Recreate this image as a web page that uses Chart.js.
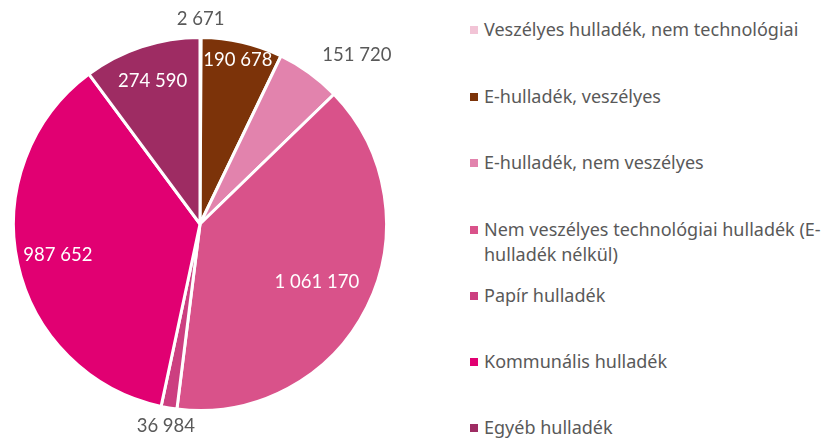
<!DOCTYPE html>
<html>
<head>
<meta charset="utf-8">
<script src="https://cdn.jsdelivr.net/npm/chart.js@4"></script>
<style>
  body { margin: 0; background: #fff; }
  #wrap { position: relative; width: 827px; height: 441px; }
  #pieBox { position: absolute; left: 0; top: 0; width: 400px; height: 441px; }
  #legend { position: absolute; left: 470px; top: 0; width: 357px; font-family: "Noto Sans", sans-serif; font-size: 18px; color: #595959; }
  .item { position: absolute; left: 0; display: flex; align-items: flex-start; line-height: 25px; }
  .box { width: 8px; height: 8px; margin: 9px 6px 0 0; flex: none; }
</style>
</head>
<body>
<div id="wrap">
  <div id="pieBox"><canvas id="pie"></canvas></div>
  <div id="legend"></div>
</div>
<script>
const categories = [
  "Veszélyes hulladék, nem technológiai",
  "E-hulladék, veszélyes",
  "E-hulladék, nem veszélyes",
  "Nem veszélyes technológiai hulladék (E-hulladék nélkül)",
  "Papír hulladék",
  "Kommunális hulladék",
  "Egyéb hulladék"
];
const values = [2671, 190678, 151720, 1061170, 36984, 987652, 274590];
const colors = ["#f2c4d6", "#7c3309", "#e283ad", "#d9528a", "#cc3f80", "#e10072", "#9e2c63"];

// label placement: radius factor and whether text sits inside (white) or outside (grey)
const labelRadius = [1.1, 0.9, 1.12, 0.7, 1.1, 0.78, 0.81];
const labelInside = [false, true, false, true, false, true, true];

function fmt(v) {
  return String(v).replace(/\B(?=(\d{3})+(?!\d))/g, " ");
}

const sliceLabels = {
  id: "sliceLabels",
  afterDatasetsDraw(chart) {
    const ctx = chart.ctx;
    const meta = chart.getDatasetMeta(0);
    ctx.save();
    ctx.font = "18.5px Lato";
    ctx.textBaseline = "middle";
    meta.data.forEach((arc, i) => {
      const p = arc.getProps(["x", "y", "startAngle", "endAngle", "outerRadius"], true);
      const mid = (p.startAngle + p.endAngle) / 2;
      const r = p.outerRadius * labelRadius[i];
      const x = p.x + Math.cos(mid) * r;
      const y = p.y + Math.sin(mid) * r;
      ctx.fillStyle = labelInside[i] ? "#ffffff" : "#595959";
      ctx.textAlign = "center";
      if (!labelInside[i] && Math.abs(Math.cos(mid)) > 0.3) {
        ctx.textAlign = Math.cos(mid) > 0 ? "left" : "right";
      }
      ctx.fillText(fmt(values[i]), x, y);
    });
    ctx.restore();
  }
};

new Chart(document.getElementById("pie"), {
  type: "pie",
  data: {
    labels: categories,
    datasets: [{
      data: values,
      backgroundColor: colors,
      borderColor: "#ffffff",
      borderWidth: 3
    }]
  },
  options: {
    responsive: true,
    maintainAspectRatio: false,
    animation: false,
    layout: { padding: { left: 12, right: 12, top: 36, bottom: 29 } },
    plugins: {
      legend: { display: false },
      tooltip: { enabled: false }
    }
  },
  plugins: [sliceLabels]
});

const legendTops = [17, 84, 150, 217, 283, 349, 415];
const legend = document.getElementById("legend");
categories.forEach((name, i) => {
  const item = document.createElement("div");
  item.className = "item";
  item.style.top = legendTops[i] + "px";
  const box = document.createElement("span");
  box.className = "box";
  box.style.background = colors[i];
  const text = document.createElement("span");
  text.textContent = name;
  item.appendChild(box);
  item.appendChild(text);
  legend.appendChild(item);
});
</script>
</body>
</html>
